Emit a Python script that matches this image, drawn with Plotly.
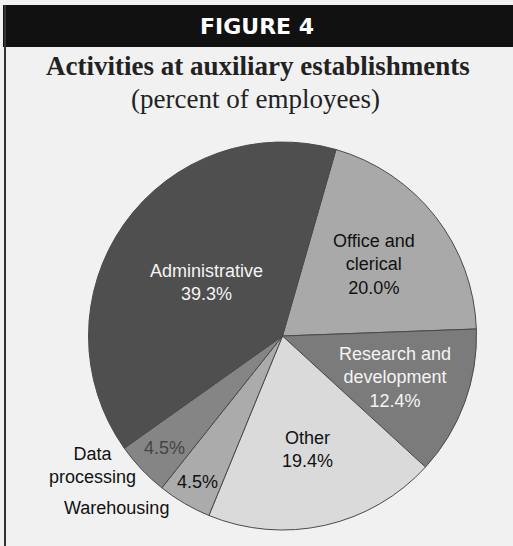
import math
import plotly.graph_objects as go

# Share of employees at auxiliary establishments, by activity (clockwise order)
activities = ["Office and clerical", "Research and development", "Other",
              "Warehousing", "Data processing", "Administrative"]
shares = [20.0, 12.4, 19.4, 4.5, 4.5, 39.3]
inside_names = ["Office and<br>clerical", "Research and<br>development", "Other",
                "", "", "Administrative"]

# Styling
slice_colors = ["#a9a9a9", "#7b7b7b", "#dadada", "#ababab", "#858585", "#4f4f4f"]
label_colors = ["#111111", "#f4f4f4", "#111111", "#111111", "#444444", "#f4f4f4"]
label_radius = [0.60, 0.62, 0.60, 0.87, 0.84, 0.48]

W, H = 513, 546
CX, CY, R = 282.5, 336.0, 194.0
START = 16.0  # start angle, degrees clockwise from 12 o'clock


def px(x):
    return x / W


def py(y):
    return 1 - y / H


fig = go.Figure(go.Pie(
    labels=activities,
    values=shares,
    sort=False,
    direction="clockwise",
    rotation=START,
    marker=dict(colors=slice_colors, line=dict(color="#4a4a4a", width=1)),
    textinfo="none",
    hoverinfo="label+percent",
    showlegend=False,
    domain=dict(x=[px(CX - R), px(CX + R)], y=[py(CY + R), py(CY - R)]),
))


def note(x, y, text, size, color, family):
    return dict(x=px(x), y=py(y), xref="paper", yref="paper", text=text,
                showarrow=False, align="center", xanchor="center", yanchor="middle",
                font=dict(family=family, size=size, color=color))


label_font = "Liberation Sans, Arial, sans-serif"
serif = "Liberation Serif, Times New Roman, serif"

annotations = []
total = sum(shares)
cum = 0.0
for name, val, col, rf in zip(inside_names, shares, label_colors, label_radius):
    mid = math.radians(START + (cum + val / 2) / total * 360)
    cum += val
    x = CX + rf * R * math.sin(mid)
    y = CY - rf * R * math.cos(mid)
    text = f"{val:.1f}%" if not name else f"{name}<br>{val:.1f}%"
    annotations.append(note(x, y, text, 18, col, label_font))

# Names of the two narrow slices, set outside the pie
annotations += [
    note(92, 465, "Data<br>processing", 18, "#111111", label_font),
    note(116, 508, "Warehousing", 18, "#111111", label_font),
]

# Header band and titles
annotations += [
    note(257, 26, "<b>FIGURE 4</b>", 22, "white", "DejaVu Sans, sans-serif"),
    note(258, 66, "<b>Activities at auxiliary establishments</b>", 27, "#222222", serif),
    note(255, 99, "(percent of employees)", 27, "#222222", serif),
]

shapes = [
    dict(type="rect", xref="paper", yref="paper", x0=px(3), x1=1, y0=py(47), y1=py(5),
         fillcolor="#111111", line=dict(width=0), layer="below"),
    dict(type="line", xref="paper", yref="paper", x0=px(5), x1=px(5), y0=0, y1=py(5),
         line=dict(color="#333333", width=2)),
]

fig.update_layout(
    width=W, height=H,
    margin=dict(l=0, r=0, t=0, b=0),
    paper_bgcolor="#f1f1f1",
    plot_bgcolor="#f1f1f1",
    annotations=annotations,
    shapes=shapes,
)

fig.write_html("out.html")
